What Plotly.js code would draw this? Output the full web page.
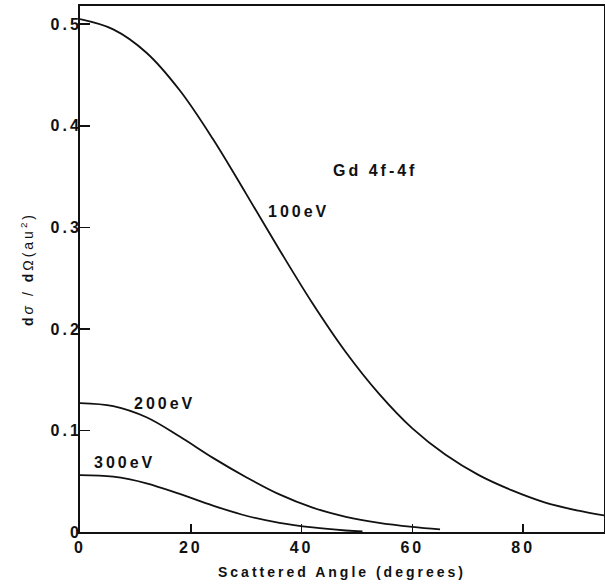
<!DOCTYPE html>
<html>
<head>
<meta charset="utf-8">
<script src="https://cdn.plot.ly/plotly-3.0.1.min.js"></script>
<style>
html, body { margin: 0; padding: 0; background: #fff; }
svg text { letter-spacing: 3px; }
</style>
</head>
<body>
<div id="chart" style="width:605px;height:584px;"></div>
<script>
// Data (Gd 4f-4f differential cross section)
const angle100 = [0, 6, 12, 18, 24, 30, 36, 42, 48, 54, 60, 66, 72, 78, 84, 90, 94.6];
const sigma100 = [0.505, 0.495, 0.472, 0.435, 0.387, 0.333, 0.278, 0.225, 0.177, 0.136, 0.102, 0.076, 0.056, 0.041, 0.029, 0.021, 0.0163];

const angle200 = [0, 6, 12, 18, 24, 30, 36, 42, 48, 54, 60, 65];
const sigma200 = [0.127, 0.124, 0.113, 0.094, 0.073, 0.054, 0.037, 0.024, 0.015, 0.009, 0.005, 0.0025];

const angle300 = [0, 6, 12, 18, 24, 30, 36, 42, 48, 51];
const sigma300 = [0.056, 0.0545, 0.048, 0.0375, 0.026, 0.016, 0.009, 0.0045, 0.0015, 0.0005];

const curveLabels = ["100eV", "200eV", "300eV"];
const labelX = [39.5, 15.3, 8.1];
const labelY = [0.316, 0.127, 0.068];
const titleText = "Gd 4f-4f";
const xTicks = [0, 20, 40, 60, 80];
const yTicks = [0, 0.1, 0.2, 0.3, 0.4, 0.5];

const FONT = "Liberation Sans, Arial, Helvetica, sans-serif";
const lineStyle = {color: "#111", width: 1.8, shape: "spline", smoothing: 1};

const traces = [
  {x: angle100, y: sigma100, name: curveLabels[0]},
  {x: angle200, y: sigma200, name: curveLabels[1]},
  {x: angle300, y: sigma300, name: curveLabels[2]}
].map(t => Object.assign(t, {type: "scatter", mode: "lines", line: lineStyle, hoverinfo: "skip"}));

const annotations = curveLabels.map((t, i) => ({
  x: labelX[i], y: labelY[i], xref: "x", yref: "y", text: "<b>" + t + "</b>",
  showarrow: false, font: {family: FONT, size: 16, color: "#111"}
}));
annotations.push({
  x: 53.2, y: 0.356, xref: "x", yref: "y", text: "<b>" + titleText + "</b>",
  showarrow: false, font: {family: FONT, size: 16, color: "#111"}
});

const layout = {
  width: 605, height: 584,
  margin: {l: 80, r: 1, t: 6, b: 52},
  paper_bgcolor: "#fff", plot_bgcolor: "#fff",
  showlegend: false,
  font: {family: FONT, color: "#111"},
  xaxis: {
    range: [0, 94.6], tickvals: xTicks, ticktext: xTicks.map(v => "<b>" + v + "</b>"),
    ticks: "inside", ticklen: 8, tickwidth: 1.6, tickcolor: "#111",
    showline: true, linecolor: "#111", linewidth: 2, mirror: true,
    showgrid: false, zeroline: false,
    tickfont: {family: FONT, size: 16, color: "#111"},
    title: {text: "<b>Scattered Angle (degrees)</b>", font: {family: FONT, size: 14, color: "#111"}, standoff: 12}
  },
  yaxis: {
    range: [0, 0.518], tickvals: yTicks, ticktext: yTicks.map(v => "<b>" + v + "</b>"),
    ticks: "inside", ticklen: 10, tickwidth: 1.6, tickcolor: "#111",
    ticklabelstandoff: -7,
    showline: true, linecolor: "#111", linewidth: 2, mirror: true,
    showgrid: false, zeroline: false,
    tickfont: {family: FONT, size: 16, color: "#111"},
    title: {text: "<b>d</b><i>σ</i> / <b>d</b>Ω(au<sup>2</sup>)", font: {family: FONT, size: 14, color: "#111"}, standoff: 14}
  },
  annotations: annotations
};

Plotly.newPlot("chart", traces, layout, {displayModeBar: false, staticPlot: true});
</script>
</body>
</html>
